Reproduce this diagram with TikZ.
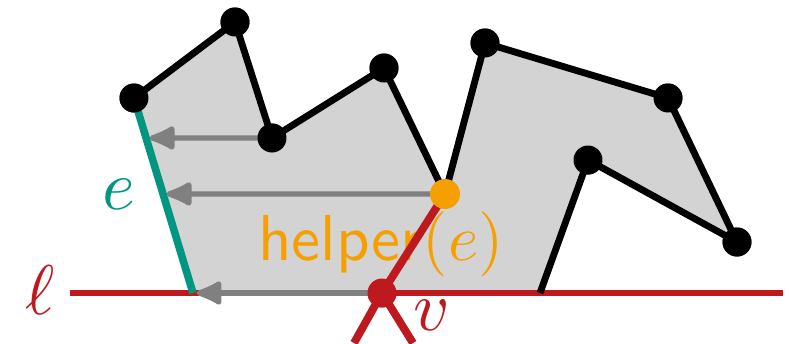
\documentclass[tikz,border=0pt]{standalone}
\usepackage{amsmath,amssymb}
\usepackage{graphicx}
\usepackage{tikz}
\usetikzlibrary{arrows.meta,positioning,calc}

\definecolor{polyfill}{RGB}{211,211,211}
\definecolor{edgeteal}{RGB}{0,150,130}
\definecolor{linered}{RGB}{190,25,30}
\definecolor{helperorange}{RGB}{245,160,0}
\definecolor{arrowgray}{RGB}{128,128,128}

\newcommand{\biglbl}[1]{\scalebox{4}{$#1$}}

\begin{document}
\begin{tikzpicture}[x=0.02cm, y=-0.02cm,
  vert/.style={circle, fill=black, inner sep=0pt, minimum size=0.58cm},
  polyedge/.style={draw=black, line width=3.9pt, line join=round},
  sweep/.style={arrowgray, line width=3pt, -{Latex[round, length=18pt, width=16pt]}}]
\useasboundingbox (0,0) rectangle (789,343);

% vertices of the polygon
\node[vert] (A) at (134, 98) {};
\node[vert] (B) at (235, 22) {};
\node[vert] (C) at (272,138) {};
\node[vert] (D) at (384, 68) {};
\node[vert, fill=helperorange, minimum size=0.6cm] (E) at (445,194) {};
\node[vert] (F) at (485, 43) {};
\node[vert] (G) at (668, 98) {};
\node[vert] (H) at (737,242) {};
\node[vert] (I) at (588,160) {};
\node[vert, fill=linered] (v) at (382,293) {};

\coordinate (P) at (193,293);
\coordinate (Q) at (540,293);
\coordinate (lL) at (70,293);
\coordinate (lR) at (783,293);
\coordinate (vL) at (354,343);
\coordinate (vR) at (413,343);

% the gray region
\fill[polyfill] (A.center) -- (B.center) -- (C.center) -- (D.center) -- (E.center)
  -- (F.center) -- (G.center) -- (H.center) -- (I.center) -- (Q) -- (P) -- cycle;

% the sweep line
\draw[linered, line width=3.6pt] (lL) -- (lR);
\node[linered] (ell) at (40,290) {\biglbl{\ell}};

\draw[polyedge] (A.center) -- (B.center) -- (C.center) -- (D.center) -- (E.center)
  -- (F.center) -- (G.center) -- (H.center) -- (I.center) -- (Q);
\draw[edgeteal, line width=4.3pt] (A.center) -- (P);
\node[edgeteal] (elabel) at (119,194) {\biglbl{e}};

% projections onto e
\coordinate (eC) at ($(A.center)!0.205!(P)$);
\coordinate (eE) at ($(A.center)!0.492!(P)$);
\draw[sweep] (C.center) -- ([xshift=2pt]eC);
\draw[sweep] (E.center) -- ([xshift=2pt]eE);
\draw[sweep] (v.center) -- ([xshift=2pt]P);

\node[helperorange] (helper) at (381,244) {\scalebox{3.7}{\sffamily helper$(e)$}};

\draw[linered, line width=4.5pt] (E.center) -- (v.center) -- (vL);
\draw[linered, line width=4.5pt] (v.center) -- (vR);
\node[linered] (vlabel) at (432,315) {\biglbl{v}};

% dots on top
\foreach \p in {A,B,C,D,F,G,H,I}
  \node[vert] at (\p) {};
\node[vert, fill=helperorange, minimum size=0.6cm] at (E) {};
\node[vert, fill=linered] at (v) {};
\end{tikzpicture}
\end{document}
